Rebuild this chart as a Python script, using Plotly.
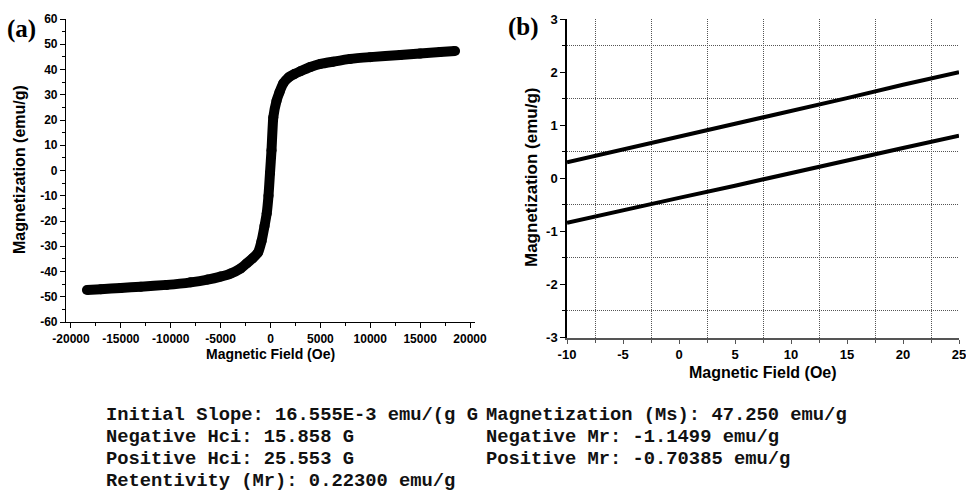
import plotly.graph_objects as go

# ---------------- data ----------------
# Panel (a): hysteresis curve (field in Oe, magnetization in emu/g)
field_a = [-18400, -17000, -15000, -13000, -10400, -8000, -6300, -5000, -4000,
           -3000, -2400, -1800, -1250, -900, -600, -380, -200, -50, 100, 280,
           600, 900, 1280, 1800, 2400, 3000, 4000, 5000, 6300, 8000, 10000,
           13000, 15000, 17000, 18500]
mag_a = [-47.3, -47.0, -46.5, -46.0, -45.3, -44.3, -43.2, -42.0, -40.8,
         -38.8, -36.8, -34.8, -32.5, -28.0, -22.0, -17.0, -10.0, -1.0, 8.0, 21.0,
         27.5, 31.0, 34.5, 36.8, 38.2, 39.3, 41.0, 42.2, 43.1, 44.2, 44.9,
         45.7, 46.3, 46.9, 47.3]

# Panel (b): zoom near origin, two branches
field_b = [-10, -5, 0, 5, 10, 15, 20, 25]
mag_b_upper = [0.30, 0.54, 0.79, 1.03, 1.27, 1.51, 1.76, 2.00]
mag_b_lower = [-0.84, -0.60, -0.37, -0.14, 0.10, 0.33, 0.57, 0.80]

# tick labels
a_xticks = [-20000, -15000, -10000, -5000, 0, 5000, 10000, 15000, 20000]
a_xlabels = ["-20000", "-15000", "-10000", "-5000", "0", "5000", "10000", "15000", "20000"]
a_yticks = [-60, -50, -40, -30, -20, -10, 0, 10, 20, 30, 40, 50, 60]
a_ylabels = ["-60", "-50", "-40", "-30", "-20", "-10", "0", "10", "20", "30", "40", "50", "60"]
b_xticks = [-10, -5, 0, 5, 10, 15, 20, 25]
b_xlabels = ["-10", "-5", "0", "5", "10", "15", "20", "25"]
b_yticks = [-3, -2, -1, 0, 1, 2, 3]
b_ylabels = ["-3", "-2", "-1", "0", "1", "2", "3"]

info_left = ["Initial Slope: 16.555E-3 emu/(g G",
             "Negative Hci: 15.858 G",
             "Positive Hci: 25.553 G",
             "Retentivity (Mr): 0.22300 emu/g"]
info_right = ["Magnetization (Ms): 47.250 emu/g",
              "Negative Mr: -1.1499 emu/g",
              "Positive Mr: -0.70385 emu/g"]

# ---------------- figure ----------------
W, H = 966, 495
SANS = "Liberation Sans, Arial, sans-serif"
SERIF = "Liberation Serif, Times New Roman, serif"
MONO = "Liberation Mono, Courier New, monospace"

def px_x(p):
    return p / W

def px_y(p):
    return (H - p) / H

def bold(labels):
    return ["<b>%s</b>" % s for s in labels]

fig = go.Figure()

fig.add_trace(go.Scatter(x=field_a, y=mag_a, mode="lines+markers",
                         line=dict(color="black", width=10, shape="spline", smoothing=0.4),
                         marker=dict(color="black", size=10),
                         xaxis="x", yaxis="y", showlegend=False))
fig.add_trace(go.Scatter(x=field_b, y=mag_b_upper, mode="lines",
                         line=dict(color="black", width=4),
                         xaxis="x2", yaxis="y2", showlegend=False))
fig.add_trace(go.Scatter(x=field_b, y=mag_b_lower, mode="lines",
                         line=dict(color="black", width=4),
                         xaxis="x2", yaxis="y2", showlegend=False))

tickfont_a = dict(family=SANS, size=12, color="black")
tickfont_b = dict(family=SANS, size=13, color="black")
GRID_DASH = "1px,1px"

fig.update_layout(
    template="none",
    width=W, height=H, autosize=False,
    margin=dict(l=0, r=0, t=0, b=0, pad=0),
    paper_bgcolor="white", plot_bgcolor="white",
    xaxis=dict(domain=[px_x(66), px_x(475)], range=[-20500, 20500],
               tickmode="array", tickvals=a_xticks, ticktext=bold(a_xlabels),
               ticks="outside", ticklen=5, tickwidth=1, tickcolor="black",
               minor=dict(tickmode="linear", tick0=2500, dtick=5000, ticks="outside",
                          ticklen=3, tickcolor="black", showgrid=False),
               showline=True, linecolor="black", linewidth=1.2,
               showgrid=False, zeroline=False, tickfont=tickfont_a,
               ticklabeloverflow="allow",
               anchor="y", fixedrange=True, automargin=False),
    yaxis=dict(domain=[px_y(322), px_y(19)], range=[-60, 60],
               tickmode="array", tickvals=a_yticks, ticktext=bold(a_ylabels),
               ticks="outside", ticklen=5, tickwidth=1, tickcolor="black",
               minor=dict(tickmode="linear", tick0=5, dtick=10, ticks="outside",
                          ticklen=3, tickcolor="black", showgrid=False),
               showline=True, linecolor="black", linewidth=1.2,
               showgrid=False, zeroline=False, tickfont=tickfont_a,
               ticklabeloverflow="allow",
               anchor="x", fixedrange=True, automargin=False),
    xaxis2=dict(domain=[px_x(567), px_x(959)], range=[-10, 25],
                tickmode="array", tickvals=b_xticks, ticktext=bold(b_xlabels),
                ticks="outside", ticklen=4, tickwidth=1.2, tickcolor="#555",
                minor=dict(tickmode="linear", tick0=2.5, dtick=5, ticks="outside",
                           ticklen=3, tickcolor="#555", showgrid=True,
                           gridcolor="#555", griddash=GRID_DASH, gridwidth=1),
                showline=True, linecolor="#555", linewidth=2,
                showgrid=False, zeroline=False, tickfont=tickfont_b,
                ticklabeloverflow="allow",
                anchor="y2", fixedrange=True, automargin=False),
    yaxis2=dict(domain=[px_y(337.5), px_y(19)], range=[-3, 3],
                tickmode="array", tickvals=b_yticks, ticktext=bold(b_ylabels),
                ticks="outside", ticklen=5, tickwidth=1, tickcolor="black",
                minor=dict(tickmode="linear", tick0=0.5, dtick=1, ticks="outside",
                           ticklen=3, tickcolor="black", showgrid=True,
                           gridcolor="#555", griddash=GRID_DASH, gridwidth=1),
                showline=True, linecolor="black", linewidth=1.5,
                showgrid=False, zeroline=False, tickfont=tickfont_b,
                ticklabeloverflow="allow",
                anchor="x2", fixedrange=True, automargin=False),
)

ann = []
def add_text(text, x, y, font, xanchor="center", yanchor="middle", angle=0):
    ann.append(dict(text=text, x=px_x(x), y=px_y(y), xref="paper", yref="paper",
                    xanchor=xanchor, yanchor=yanchor, showarrow=False,
                    textangle=angle, font=font))

# panel labels
add_text("<b>(a)</b>", 21, 29, dict(family=SERIF, size=25, color="black"))
add_text("<b>(b)</b>", 523, 27, dict(family=SERIF, size=25, color="black"))
# axis titles
add_text("<b>Magnetization (emu/g)</b>", 19, 170, dict(family=SANS, size=16, color="black"), angle=-90)
add_text("<b>Magnetic Field (Oe)</b>", 270.5, 354, dict(family=SANS, size=14, color="black"))
add_text("<b>Magnetization (emu/g)</b>", 531, 178, dict(family=SANS, size=17, color="black"), angle=-90)
add_text("<b>Magnetic Field (Oe)</b>", 763, 372, dict(family=SANS, size=16, color="black"))

# info text
mono = dict(family=MONO, size=18.8, color="#111")
rows_y = [415, 437, 459, 481]
for t, yy in zip(info_left, rows_y):
    add_text("<b>%s</b>" % t, 104, yy, mono, xanchor="left")
for t, yy in zip(info_right, rows_y[:3]):
    add_text("<b>%s</b>" % t, 484, yy, mono, xanchor="left")

fig.update_layout(annotations=ann)

fig.write_html("out.html")
